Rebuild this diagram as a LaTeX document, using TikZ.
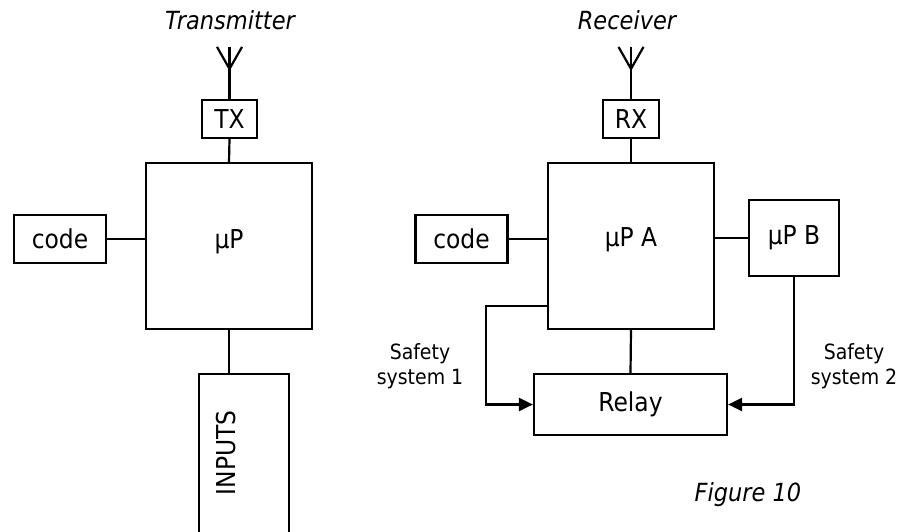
\documentclass[tikz,border=0pt]{standalone}
\usepackage{fontspec}
\setmainfont{DejaVu Sans Condensed}
\usetikzlibrary{arrows.meta}

\begin{document}
\begin{tikzpicture}[x=1pt,y=-1pt,line width=2.2pt,
    box/.style={draw,inner sep=0pt,font=\fontsize{26}{30}\selectfont},
    note/.style={font=\fontsize{21}{25}\selectfont,align=center},
    heading/.style={font=\fontsize{25}{29}\selectfont\itshape},
    sig/.style={-{Triangle[length=14pt,width=13pt]}}]
            \useasboundingbox (0,0) rectangle (899,532);
            \clip (0,0) rectangle (899,532);

            % transmitter
            \node[heading] (txlabel) at (230,20) {Transmitter};
            \node[box,minimum width=55,minimum height=38] (tx) at (229.5,119) {TX};
            \node[box,minimum width=166,minimum height=166] (mup) at (229,246) {};
            \node[font=\fontsize{26}{30}\selectfont] (muptxt) at (229,242) {µP};
            \node[box,minimum width=92,minimum height=48] (codel) at (60,239) {code};
            \node[box,minimum width=90,minimum height=200,anchor=north] (inputs) at (244,373) {};
            \node[rotate=90,font=\fontsize{26}{30}\selectfont] (inputstxt) at (226,453) {INPUTS};

            \draw (tx.north) -- ++(0,-52) coordinate (txant);
            \draw ([xshift=-12.5pt]txant) -- ++(12.5,22) -- ++(12.5,-22);
            \draw (tx.south) -- (mup.north);
            \draw (codel.east) -- (codel.east -| mup.west);
            \draw (mup.south) -- (mup.south |- inputs.north);

            % receiver
            \node[heading] (rxlabel) at (627,20) {Receiver};
            \node[box,minimum width=56,minimum height=38] (rx) at (631,119) {RX};
            \node[box,minimum width=166,minimum height=166] (mupa) at (631,246) {};
            \node[font=\fontsize{26}{30}\selectfont] (mupatxt) at (631,240) {µP A};
            \node[box,minimum width=90,minimum height=76] (mupb) at (794,238) {µP B};
            \node[box,minimum width=92,minimum height=48] (coder) at (461.5,239) {code};
            \node[box,minimum width=193,minimum height=61] (relay) at (630.5,404.5) {Relay};

            \draw (rx.north) -- ++(0,-52) coordinate (rxant);
            \draw ([xshift=-12.5pt]rxant) -- ++(12.5,22) -- ++(12.5,-22);
            \draw (rx.south) -- (mupa.north);
            \draw (coder.east) -- (coder.east -| mupa.west);
            \draw (mupb.west) -- (mupb.west -| mupa.east);
            \draw (mupa.south) -- (relay.north);

            % safety paths
            \coordinate (s1) at (486,306);
            \draw[sig] (mupa.west |- s1) -- (s1) |- (relay.west);
            \draw[sig] (mupb.south) |- (relay.east);
            \node[note] (safe1) at (420,366) {Safety\\system 1};
            \node[note] (safe2) at (854,366) {Safety\\system 2};

            \node[heading] (fig) at (748,495) {Figure 10};
\end{tikzpicture}
\end{document}
